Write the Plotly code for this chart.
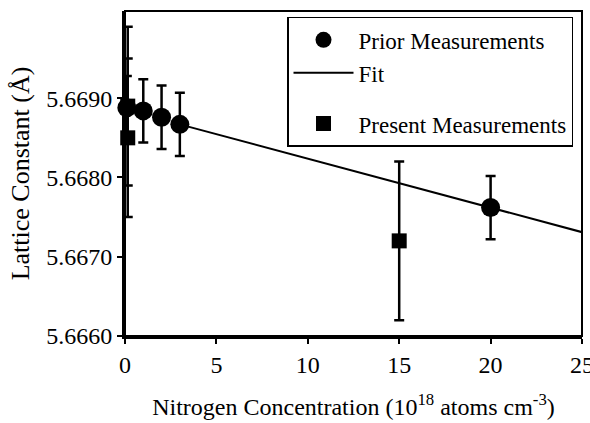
import plotly.graph_objects as go

# Data
prior_x = [0.1, 1, 2, 3, 20]
prior_y = [5.66888, 5.66884, 5.66876, 5.66867, 5.66762]
prior_err = [0.0004, 0.0004, 0.0004, 0.0004, 0.0004]

present_x = [0.15, 0.15, 15]
present_y = [5.66890, 5.66850, 5.66720]
present_err = [0.0010, 0.0010, 0.0010]

fit_x = [3, 25]
fit_y = [5.66867, 5.66731]

x_ticks = [0, 5, 10, 15, 20, 25]
y_ticks = [5.6660, 5.6670, 5.6680, 5.6690]
y_tick_text = ["5.6660", "5.6670", "5.6680", "5.6690"]

FONT = "Liberation Serif"

fig = go.Figure()

fig.add_trace(go.Scatter(
    x=present_x, y=present_y, mode="markers", name="Present Measurements",
    marker=dict(symbol="square", size=15, color="black"),
    error_y=dict(type="data", array=present_err, color="black", thickness=2.5, width=5),
    legendgroup="b", legendrank=3, cliponaxis=False,
))
fig.add_trace(go.Scatter(
    x=prior_x, y=prior_y, mode="markers", name="Prior Measurements",
    marker=dict(symbol="circle", size=19, color="black"),
    error_y=dict(type="data", array=prior_err, color="black", thickness=2.5, width=5),
    legendgroup="a", legendrank=1, cliponaxis=False,
))
fig.add_trace(go.Scatter(
    x=fit_x, y=fit_y, mode="lines", name="Fit",
    line=dict(color="black", width=2),
    legendgroup="a", legendrank=2,
))

fig.update_layout(
    width=590, height=423,
    margin=dict(l=125, r=8, t=11, b=87),
    paper_bgcolor="white", plot_bgcolor="white",
    font=dict(family=FONT, size=23, color="black"),
    showlegend=True,
    legend=dict(
        x=0.3545, y=0.982, xanchor="left", yanchor="top",
        bordercolor="black", borderwidth=1.5, bgcolor="white",
        font=dict(family=FONT, size=23, color="black"),
        traceorder="grouped", tracegroupgap=18, itemwidth=60,
    ),
    xaxis=dict(
        range=[0, 25], tickvals=x_ticks, ticks="outside", ticklen=5, tickwidth=2,
        tickcolor="black", showline=True, linecolor="black", linewidth=3,
        showgrid=False, zeroline=False, automargin=False,
        ticklabeloverflow="allow",
        title=dict(text="Nitrogen Concentration (10<sup>18</sup> atoms cm<sup>-3</sup>)",
                   font=dict(family=FONT, size=24), standoff=22),
        tickfont=dict(family=FONT, size=24),
    ),
    yaxis=dict(
        range=[5.6660, 5.6701], tickvals=y_ticks, ticktext=y_tick_text,
        ticks="outside", ticklen=5, tickwidth=2, tickcolor="black",
        showline=True, linecolor="black", linewidth=3,
        showgrid=False, zeroline=False, automargin=False,
        title=dict(text="Lattice Constant (Å)", font=dict(family=FONT, size=26), standoff=10),
        tickfont=dict(family=FONT, size=24),
    ),
    shapes=[dict(type="rect", xref="paper", yref="paper", x0=0, x1=1, y0=0, y1=1,
                 line=dict(color="black", width=2), layer="above")],
)

fig.write_html(
    "out.html",
    config={"displayModeBar": False},
    post_script="document.body.style.margin='0';document.body.style.overflow='hidden';",
)
